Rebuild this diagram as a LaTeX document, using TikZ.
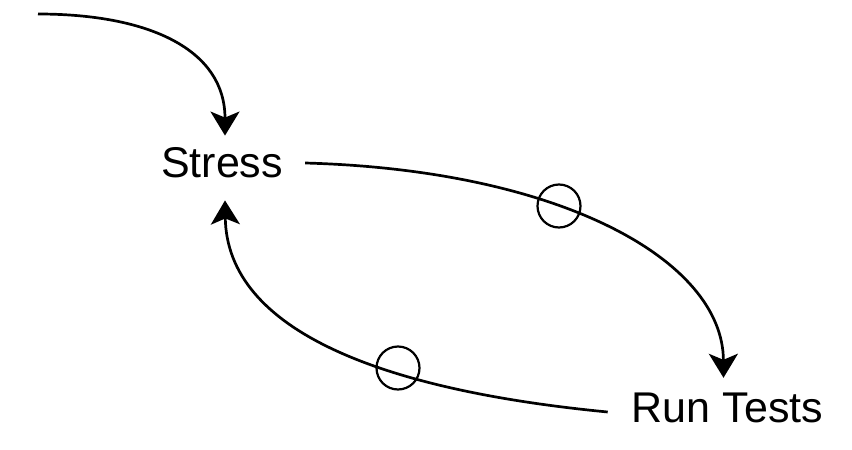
\documentclass[tikz,border=0pt]{standalone}
\usepackage{fontspec}
\setmainfont{Liberation Sans}
\usetikzlibrary{arrows.meta}
\begin{document}
\begin{tikzpicture}[x=1pt,y=-1pt,
  lbl/.style={inner sep=0pt,font=\fontsize{43}{50}\selectfont},
  flow/.style={line width=2.7pt,-{Stealth[length=24pt,width=29pt,inset=6pt]}},
  ring/.style={circle,draw,line width=2.2pt,minimum size=43pt,inner sep=0pt}]
\useasboundingbox (0,0) rectangle (852,450);
\node[lbl] (stress) at (222,163) {Stress};
\node[lbl] (run) at (727.5,408) {Run Tests};
\coordinate (src) at (38,14);
\draw[flow] (src) .. controls (150,14) and (225,50) .. ([xshift=3pt,yshift=12pt]stress.north);
\draw[flow] ([xshift=22pt]stress.east) .. controls (560,170) and (723,260) .. ([xshift=-4pt,yshift=15pt]run.north);
\draw[flow] ([xshift=-24pt,yshift=-4pt]run.west) .. controls (380,390) and (227,330) .. ([xshift=3pt,yshift=-22pt]stress.south);
\node[ring] (r1) at (559,206) {};
\node[ring] (r2) at (398,368) {};
\end{tikzpicture}
\end{document}
